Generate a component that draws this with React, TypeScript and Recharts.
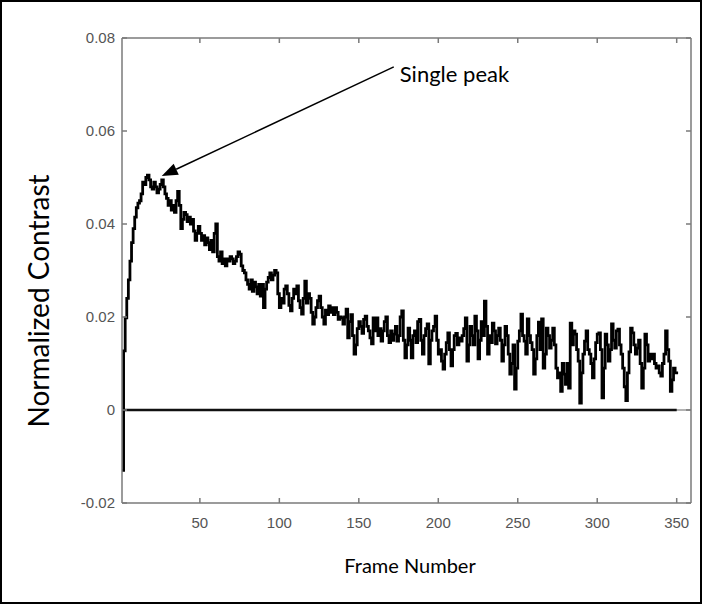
import { LineChart, Line, XAxis, YAxis, ReferenceLine } from "recharts";

// frame numbers 1..350
const frameNumbers = Array.from({ length: 350 }, (_, i) => i + 1);

// normalized contrast
const contrast = [
  -0.013, 0.0127, 0.0198, 0.024, 0.028, 0.032, 0.036, 0.039, 0.0415, 0.0435,
  0.0445, 0.045, 0.0465, 0.049, 0.0485, 0.05, 0.0505, 0.0495, 0.048, 0.0475,
  0.049, 0.048, 0.0467, 0.0475, 0.0485, 0.0495, 0.048, 0.0465, 0.0455, 0.044,
  0.045, 0.043, 0.044, 0.0425, 0.045, 0.047, 0.044, 0.039, 0.041, 0.0425,
  0.042, 0.0405, 0.0415, 0.04, 0.041, 0.0385, 0.0365, 0.038, 0.0395, 0.038,
  0.0365, 0.0375, 0.0355, 0.037, 0.036, 0.0345, 0.0365, 0.034, 0.038, 0.04,
  0.033, 0.032, 0.034, 0.0315, 0.0325, 0.031, 0.0325, 0.032, 0.033, 0.0325,
  0.0315, 0.032, 0.033, 0.034, 0.0335, 0.031, 0.03, 0.0295, 0.028, 0.027,
  0.026, 0.028, 0.0255, 0.0275, 0.0265, 0.025, 0.027, 0.0245, 0.027, 0.022,
  0.026, 0.0275, 0.0285, 0.0295, 0.028, 0.029, 0.03, 0.0295, 0.025, 0.022,
  0.024, 0.023, 0.026, 0.0267, 0.025, 0.0225, 0.0213, 0.024, 0.026, 0.025,
  0.0267, 0.0235, 0.022, 0.0206, 0.024, 0.0277, 0.023, 0.025, 0.024, 0.021,
  0.0185, 0.02, 0.022, 0.0235, 0.0245, 0.022, 0.02, 0.0185, 0.0215, 0.0205,
  0.0224, 0.021, 0.022, 0.0205, 0.022, 0.021, 0.0195, 0.02, 0.0198, 0.0185,
  0.02, 0.0217, 0.0155, 0.019, 0.0205, 0.016, 0.012, 0.014, 0.0175, 0.019,
  0.018, 0.0165, 0.0195, 0.0202, 0.018, 0.017, 0.0155, 0.0142, 0.0198, 0.017,
  0.0198, 0.016, 0.0175, 0.0148, 0.017, 0.019, 0.02, 0.016, 0.0145, 0.017,
  0.015, 0.0163, 0.018, 0.0148, 0.016, 0.02, 0.0213, 0.015, 0.0112, 0.014,
  0.0176, 0.015, 0.0112, 0.016, 0.017, 0.0145, 0.019, 0.0195, 0.015, 0.012,
  0.016, 0.0175, 0.0185, 0.0099, 0.015, 0.017, 0.018, 0.0202, 0.015, 0.012,
  0.013, 0.0105, 0.0088, 0.012, 0.0145, 0.0166, 0.013, 0.0095, 0.013, 0.016,
  0.0165, 0.014, 0.0155, 0.0148, 0.016, 0.0175, 0.0198, 0.0105, 0.014, 0.018,
  0.016, 0.014, 0.0202, 0.017, 0.011, 0.015, 0.019, 0.016, 0.0234, 0.018,
  0.012, 0.016, 0.0145, 0.0187, 0.017, 0.0142, 0.016, 0.0176, 0.015, 0.0105,
  0.014, 0.018, 0.016, 0.012, 0.0077, 0.01, 0.014, 0.0045, 0.009, 0.0148,
  0.017, 0.0206, 0.016, 0.0148, 0.012, 0.0196, 0.016, 0.0145, 0.013, 0.0077,
  0.011, 0.016, 0.0189, 0.013, 0.0196, 0.009, 0.012, 0.0176, 0.016, 0.0133,
  0.015, 0.0176, 0.014, 0.009, 0.0069, 0.008, 0.004, 0.01, 0.0077, 0.0055,
  0.01, 0.0047, 0.0187, 0.014, 0.017, 0.0163, 0.013, 0.0105, 0.0015, 0.008,
  0.012, 0.0148, 0.017, 0.013, 0.012, 0.01, 0.0069, 0.011, 0.0145, 0.0163,
  0.0166, 0.013, 0.0026, 0.009, 0.0163, 0.014, 0.0105, 0.013, 0.0185, 0.015,
  0.0133, 0.017, 0.0174, 0.014, 0.012, 0.009, 0.005, 0.002, 0.008, 0.0125,
  0.0176, 0.0166, 0.014, 0.012, 0.0133, 0.015, 0.01, 0.0047, 0.009, 0.0163,
  0.014, 0.0105, 0.012, 0.011, 0.012, 0.01, 0.009, 0.0095, 0.008, 0.0073,
  0.01, 0.012, 0.017, 0.013, 0.0105, 0.004, 0.0065, 0.009, 0.008, 0.0077,
];

const xTicks = [50, 100, 150, 200, 250, 300, 350];
const yTicks = [-0.02, 0, 0.02, 0.04, 0.06, 0.08];

// annotation: arrow from the label to the peak
const peakFrame = 26;
const peakValue = 0.0503;
const noteFrame = 172;
const noteValue = 0.0738;

const data = frameNumbers.map((f, i) => ({ frame: f, contrast: contrast[i], zero: 0 }));

const axisColor = "#7a7a7a";
const tickFont = { fontSize: 15, fill: "#555", fontFamily: "Liberation Sans, Arial, sans-serif" };
const titleFont = "Lato, 'Open Sans', sans-serif";

function Arrow(props: any) {
  const { x1, y1, x2, y2 } = props;
  const dx = x2 - x1;
  const dy = y2 - y1;
  const len = Math.sqrt(dx * dx + dy * dy);
  const ux = dx / len;
  const uy = dy / len;
  const head = 16;
  const half = 6;
  const bx = x2 - ux * head;
  const by = y2 - uy * head;
  const pts = `${x2},${y2} ${bx - uy * half},${by + ux * half} ${bx + uy * half},${by - ux * half}`;
  return (
    <g>
      <line x1={x1} y1={y1} x2={bx} y2={by} stroke="#000" strokeWidth={1.5} />
      <polygon points={pts} fill="#000" />
      <text x={x1 + 6} y={y1 + 15} fontFamily={titleFont} fontSize={22} fill="#000">
        Single peak
      </text>
    </g>
  );
}

export default function App() {
  return (
    <div style={{ position: "absolute", left: 0, top: 0, width: 702, height: 604, background: "#fff" }}>
      <div
        style={{
          position: "absolute", left: 0, top: 0, width: 702, height: 604,
          border: "2px solid #000", boxSizing: "border-box",
        }}
      />
      <LineChart
        width={702}
        height={604}
        data={data}
        margin={{ top: 37, right: 10, bottom: 71, left: 62 }}
      >
        <XAxis
          dataKey="frame"
          type="number"
          domain={[1, 359]}
          ticks={xTicks}
          allowDataOverflow
          height={30}
          stroke={axisColor}
          strokeWidth={1.5}
          tickSize={-5}
          tickMargin={19}
          tick={tickFont}
        />
        <XAxis
          xAxisId="top"
          orientation="top"
          dataKey="frame"
          type="number"
          domain={[1, 359]}
          ticks={xTicks}
          allowDataOverflow
          height={1}
          stroke={axisColor}
          strokeWidth={1.5}
          tickSize={-5}
          tickFormatter={() => ""}
        />
        <YAxis
          type="number"
          domain={[-0.02, 0.08]}
          ticks={yTicks}
          allowDataOverflow
          width={60}
          stroke={axisColor}
          strokeWidth={1.5}
          tickSize={-5}
          tickMargin={12}
          tick={tickFont}
          tickFormatter={(v: number) => (v === 0 ? "0" : v.toFixed(2))}
        />
        <YAxis
          yAxisId="right"
          orientation="right"
          type="number"
          domain={[-0.02, 0.08]}
          ticks={yTicks}
          allowDataOverflow
          width={1}
          stroke={axisColor}
          strokeWidth={1.5}
          tickSize={-5}
          tickFormatter={() => ""}
        />
        <ReferenceLine y={0} stroke="#999" strokeWidth={1.5} />
        <Line
          xAxisId="top"
          yAxisId="right"
          dataKey="zero"
          type="linear"
          stroke="none"
          dot={false}
          isAnimationActive={false}
        />
        <Line
          dataKey="zero"
          type="linear"
          stroke="#111"
          strokeWidth={2.5}
          dot={false}
          isAnimationActive={false}
        />
        <Line
          dataKey="contrast"
          type="stepAfter"
          stroke="#000"
          strokeWidth={2.8}
          dot={false}
          isAnimationActive={false}
        />
        <ReferenceLine
          segment={[{ x: noteFrame, y: noteValue }, { x: peakFrame, y: peakValue }]}
          ifOverflow="visible"
          shape={Arrow}
        />
      </LineChart>
      <div
        style={{
          position: "absolute", left: 38, top: 301, transform: "translate(-50%, -50%) rotate(-90deg)",
          fontFamily: titleFont, fontSize: 28, whiteSpace: "nowrap", color: "#000",
        }}
      >
        Normalized Contrast
      </div>
      <div
        style={{
          position: "absolute", left: 410, top: 565, transform: "translate(-50%, -50%)",
          fontFamily: titleFont, fontSize: 20, whiteSpace: "nowrap", color: "#000",
        }}
      >
        Frame Number
      </div>
    </div>
  );
}
